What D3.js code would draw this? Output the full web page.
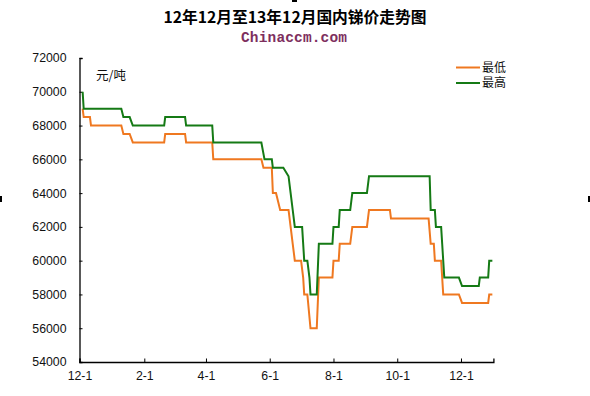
<!DOCTYPE html>
<html>
<head>
<meta charset="utf-8">
<script src="https://cdn.jsdelivr.net/npm/d3@7"></script>
<style>
  html, body { margin: 0; padding: 0; background: #fff; }
  svg { display: block; }
</style>
</head>
<body>
<svg id="chart" width="590" height="396"></svg>
<script>
// ---------- DATA ----------
const titleText = "12年12月至13年12月国内锑价走势图";
const subtitleText = "Chinaccm.com";
const unitText = "元/吨";
const seriesNames = ["最低", "最高"];

const yTicks = [54000, 56000, 58000, 60000, 62000, 64000, 66000, 68000, 70000, 72000];
const xTickDates = ["2012-12-01", "2013-02-01", "2013-04-01", "2013-06-01", "2013-08-01", "2013-10-01", "2013-12-01"];
const xTickLabels = ["12-1", "2-1", "4-1", "6-1", "8-1", "10-1", "12-1"];

const lowDates = [
  "2012-12-04","2012-12-05","2012-12-11","2012-12-12","2013-01-10","2013-01-12","2013-01-18","2013-01-21",
  "2013-02-20","2013-02-21","2013-03-12","2013-03-13","2013-04-07","2013-04-08","2013-05-24","2013-05-26",
  "2013-06-03","2013-06-04","2013-06-07","2013-06-11","2013-06-19","2013-06-21","2013-06-23","2013-06-25",
  "2013-07-01","2013-07-03","2013-07-04","2013-07-07","2013-07-10","2013-07-16","2013-07-18","2013-07-31",
  "2013-08-01","2013-08-06","2013-08-07","2013-08-17","2013-08-19","2013-09-02","2013-09-04","2013-09-24",
  "2013-09-25","2013-10-31","2013-11-02","2013-11-05","2013-11-06","2013-11-12","2013-11-14","2013-11-29",
  "2013-12-02","2013-12-27","2013-12-28","2013-12-31"
];
const lowValues = [
  69000,68500,68500,68000,68000,67500,67500,67000,
  67000,67500,67500,67000,67000,66000,66000,65500,
  65500,64000,64000,63000,63000,62000,61000,60000,
  60000,59000,58000,58000,56000,56000,59000,59000,
  60000,60000,61000,61000,62000,62000,63000,63000,
  62500,62500,61000,61000,60000,60000,58000,58000,
  57500,57500,58000,58000
];

const highDates = [
  "2012-12-04","2012-12-05","2013-01-10","2013-01-12","2013-01-18","2013-01-21","2013-02-20","2013-02-21",
  "2013-03-12","2013-03-13","2013-04-07","2013-04-08","2013-05-24","2013-05-27","2013-06-03","2013-06-04",
  "2013-06-14","2013-06-19","2013-06-21","2013-06-23","2013-06-25","2013-07-02","2013-07-04","2013-07-07",
  "2013-07-09","2013-07-10","2013-07-16","2013-07-18","2013-07-31","2013-08-01","2013-08-06","2013-08-07",
  "2013-08-17","2013-08-19","2013-09-02","2013-09-04","2013-11-01","2013-11-02","2013-11-06","2013-11-07",
  "2013-11-12","2013-11-13","2013-11-15","2013-11-29","2013-12-02","2013-12-18","2013-12-19","2013-12-27",
  "2013-12-28","2013-12-31"
];
const highValues = [
  70000,69000,69000,68500,68500,68000,68000,68500,
  68500,68000,68000,67000,67000,66000,66000,65500,
  65500,65000,64000,63000,62000,62000,60000,60000,
  59000,58000,58000,61000,61000,62000,62000,63000,
  63000,64000,64000,65000,65000,63000,63000,62000,
  62000,61000,59000,59000,58500,58500,59000,59000,
  60000,60000
];

// ---------- CHART ----------
const parse = d3.timeParse("%Y-%m-%d");
const svg = d3.select("#chart");
const plotLeft = 79.5, plotRight = 493.4, plotTop = 58, plotBottom = 362;

const x = d3.scaleTime()
  .domain([parse("2012-12-01"), parse("2014-01-01")])
  .range([plotLeft, plotRight]);
const y = d3.scaleLinear().domain([54000, 72000]).range([plotBottom, plotTop]);

const colors = { low: "#ef7820", high: "#157a15" };
const cnFont = "'Noto Sans CJK SC', sans-serif";
const numFont = "'Liberation Sans', Arial, sans-serif";

// Title
svg.append("text")
  .attr("x", 295).attr("y", 23)
  .attr("text-anchor", "middle")
  .attr("font-family", cnFont)
  .attr("font-weight", "bold")
  .attr("font-size", 15.5)
  .attr("textLength", 263)
  .attr("lengthAdjust", "spacingAndGlyphs")
  .attr("fill", "#000")
  .text(titleText);

svg.append("text")
  .attr("x", 294).attr("y", 41.5)
  .attr("text-anchor", "middle")
  .attr("font-family", "'Liberation Mono', 'DejaVu Sans Mono', monospace")
  .attr("font-weight", "bold")
  .attr("font-size", 14.5)
  .attr("textLength", 106)
  .attr("fill", "#7e2f5e")
  .text(subtitleText);

// small frame handle marks
svg.append("rect").attr("x", 292).attr("y", 0).attr("width", 5).attr("height", 2).attr("fill", "#000");
svg.append("rect").attr("x", 0).attr("y", 196).attr("width", 2).attr("height", 6).attr("fill", "#000");
svg.append("rect").attr("x", 588).attr("y", 196).attr("width", 2).attr("height", 6).attr("fill", "#000");

// Y axis
const yAxis = d3.axisLeft(y).tickValues(yTicks).tickSize(-3).tickPadding(13).tickFormat(d3.format("d"));
const gy = svg.append("g").attr("transform", `translate(${plotLeft},0)`).call(yAxis);
gy.select(".domain").attr("stroke", "#000").attr("stroke-width", 1.3);
gy.selectAll(".tick line").attr("stroke", "#000");
gy.selectAll(".tick text")
  .attr("font-family", numFont).attr("font-size", 12.3).attr("fill", "#111");

// X axis
const xAxis = d3.axisBottom(x)
  .tickValues(xTickDates.map(parse))
  .tickSize(-3.5).tickPadding(9)
  .tickFormat((d, i) => xTickLabels[i]);
const gx = svg.append("g").attr("transform", `translate(0,${plotBottom})`).call(xAxis);
gx.select(".domain").attr("stroke", "#000").attr("stroke-width", 1.3);
gx.selectAll(".tick line").attr("stroke", "#000");
gx.selectAll(".tick text")
  .attr("font-family", numFont).attr("font-size", 12.3).attr("fill", "#111");

// unit label
svg.append("text")
  .attr("x", 96).attr("y", 79.5)
  .attr("font-family", cnFont).attr("font-size", 12.5).attr("fill", "#111")
  .text(unitText);

// Lines
const line = d3.line().x(d => x(d[0])).y(d => y(d[1]));
const lowData = lowDates.map((d, i) => [parse(d), lowValues[i]]);
const highData = highDates.map((d, i) => [parse(d), highValues[i]]);

svg.append("path").datum(lowData)
  .attr("d", line).attr("fill", "none")
  .attr("stroke", colors.low).attr("stroke-width", 2);
svg.append("path").datum(highData)
  .attr("d", line).attr("fill", "none")
  .attr("stroke", colors.high).attr("stroke-width", 2);

// Legend
const legend = [
  { name: seriesNames[0], color: colors.low, y: 67.5 },
  { name: seriesNames[1], color: colors.high, y: 83 }
];
legend.forEach(l => {
  svg.append("line").attr("x1", 456).attr("x2", 480).attr("y1", l.y).attr("y2", l.y)
    .attr("stroke", l.color).attr("stroke-width", 2);
  svg.append("text").attr("x", 482).attr("y", l.y + 4)
    .attr("font-family", cnFont).attr("font-size", 12).attr("fill", "#111")
    .text(l.name);
});
</script>
</body>
</html>
